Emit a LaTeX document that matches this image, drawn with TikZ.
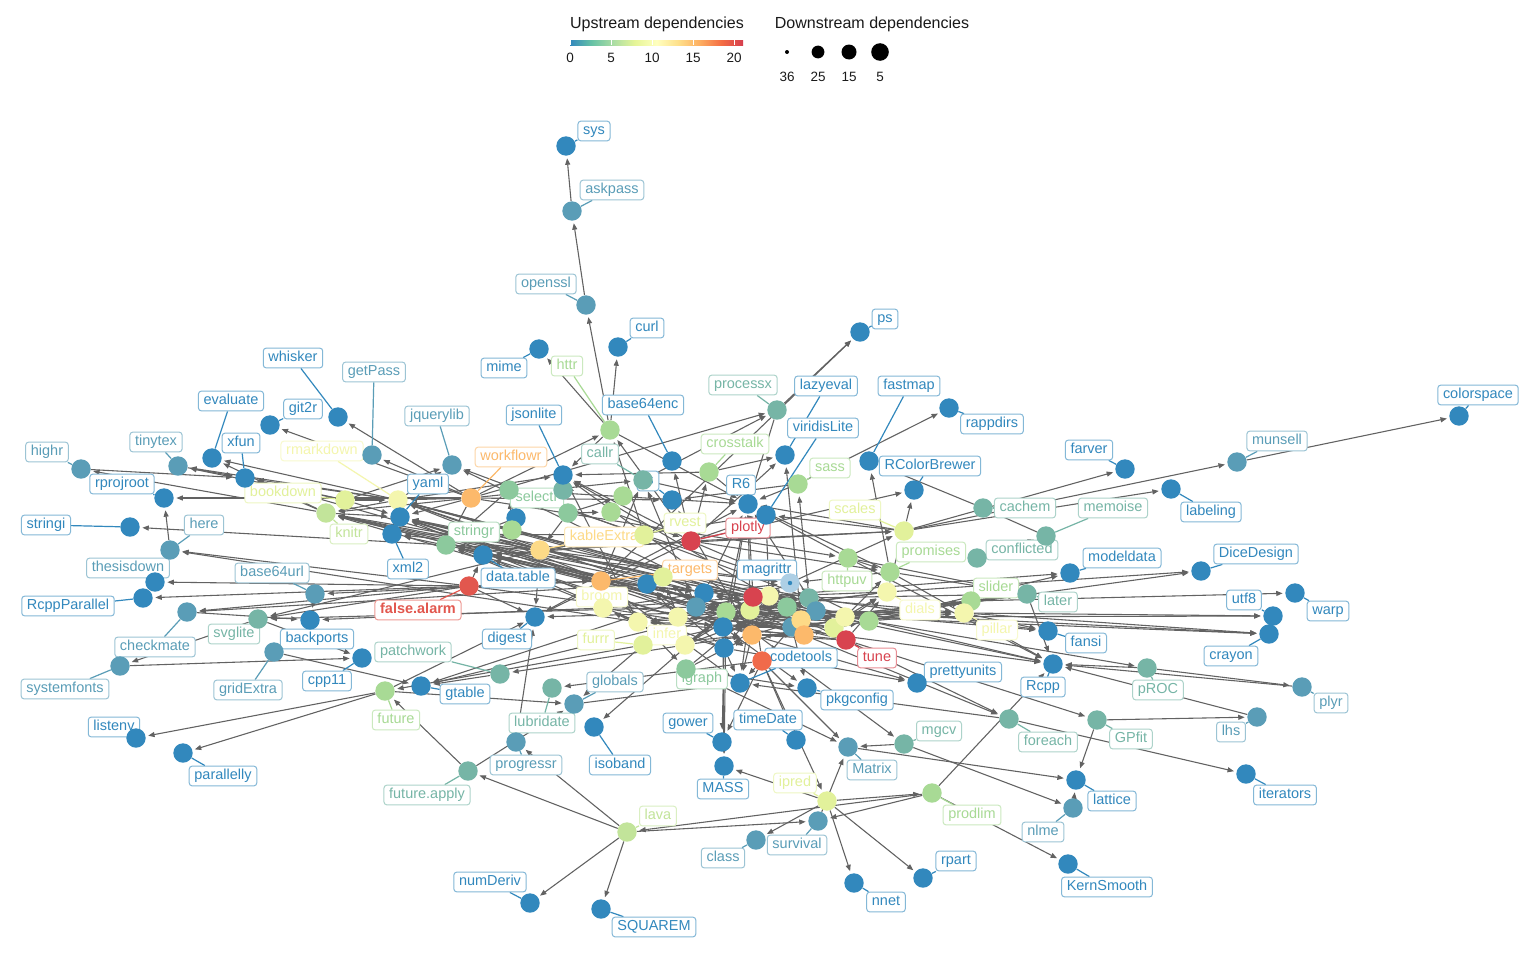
\documentclass[tikz,border=0pt]{standalone}
\usepackage{fontspec}
\setmainfont{Liberation Sans}
\usepackage{tikz}
\usetikzlibrary{arrows.meta, positioning}
\definecolor{cA}{HTML}{3288BD}
\definecolor{cB}{HTML}{5A9DB7}
\definecolor{cC}{HTML}{76B5A6}
\definecolor{cD}{HTML}{8CC99D}
\definecolor{cE}{HTML}{A8DA95}
\definecolor{cF}{HTML}{C2E49A}
\definecolor{cG}{HTML}{E2F19B}
\definecolor{cH}{HTML}{F4F6AE}
\definecolor{cI}{HTML}{FDDA87}
\definecolor{cJ}{HTML}{FCB96B}
\definecolor{cK}{HTML}{F06A4A}
\definecolor{cL}{HTML}{D8434F}
\definecolor{cM}{HTML}{E2574E}
\definecolor{depgray}{HTML}{626262}
\definecolor{inkgray}{HTML}{1A1A1A}
\definecolor{sp1}{HTML}{3288BD}
\definecolor{sp2}{HTML}{66C2A5}
\definecolor{sp3}{HTML}{ABDDA4}
\definecolor{sp4}{HTML}{E6F598}
\definecolor{sp5}{HTML}{FFFFBF}
\definecolor{sp6}{HTML}{FEE08B}
\definecolor{sp7}{HTML}{FDAE61}
\definecolor{sp8}{HTML}{F46D43}
\definecolor{sp9}{HTML}{D53E4F}
\pgfdeclarehorizontalshading{upstream}{100bp}{color(0bp)=(sp1); color(25bp)=(sp1); color(31.25bp)=(sp2); color(37.5bp)=(sp3); color(43.75bp)=(sp4); color(50bp)=(sp5); color(56.25bp)=(sp6); color(62.5bp)=(sp7); color(68.75bp)=(sp8); color(75bp)=(sp9); color(100bp)=(sp9)}
\pgfdeclarelayer{edgelayer}
\pgfdeclarelayer{leaderlayer}
\pgfdeclarelayer{taglayer}
\pgfsetlayers{edgelayer,leaderlayer,taglayer,main}
\tikzset{
	pkg/.style={circle, fill=#1, inner sep=0pt, minimum size=4.85mm}
}
\tikzset{
	tag/.style={draw=#1!60!white, text=#1, fill=white, rounded corners=0.75mm, line width=0.25mm,
			inner xsep=1.3mm, inner ysep=0.8mm, text height=2.6mm, text depth=0.75mm,
			font=\fontsize{10.3}{12}\selectfont}
}
\tikzset{
	lead/.style={draw=#1, line width=0.3mm}
}
\tikzset{
	dep/.style={draw=depgray, line width=0.27mm, -{Triangle[length=1.6mm,width=1.25mm]}, shorten >=0.6mm}
}
\tikzset{
	legendtext/.style={text=inkgray, font=\fontsize{9.6}{11}\selectfont}
}

\begin{document}
\begin{tikzpicture}[x=0.25mm, y=-0.25mm]

	\begin{pgfonlayer}{edgelayer}
		\fill[white] (0,0) rectangle (1536,960);
	\end{pgfonlayer}
	\path[use as bounding box] (0,0) rectangle (1536,960);

	% legend
	\node[text=inkgray, font=\fontsize{11.4}{13}\selectfont] (uptitle) at (657,24) {Upstream dependencies};
	\shade[shading=upstream] (570,40) rectangle (743,45);
	\foreach \v in {0,5,10,15,20} {
			\draw[white, line width=0.2mm] ({570+8.2*\v},40) -- ++(0,5);
			\node[legendtext] (tick\v) at ({570+8.2*\v},58) {\v};
		}
	\node[text=inkgray, font=\fontsize{11.4}{13}\selectfont] (downtitle) at (872,24) {Downstream dependencies};
	\node[circle, fill=black, inner sep=0pt, minimum size=1.0mm] (d36) at (787,52) {};
	\node[circle, fill=black, inner sep=0pt, minimum size=3.2mm] (d25) at (818,52) {};
	\node[circle, fill=black, inner sep=0pt, minimum size=3.75mm] (d15) at (849,52) {};
	\node[circle, fill=black, inner sep=0pt, minimum size=4.4mm] (d5) at (880,52) {};
	\node[legendtext] (n36) at (787,77) {36};
	\node[legendtext] (n25) at (818,77) {25};
	\node[legendtext] (n15) at (849,77) {15};
	\node[legendtext] (n5) at (880,77) {5};

	% unlabelled packages in the middle
	\foreach \n/\x/\y/\c in {
			h1/568/513/cD, h2/563/490/cC, h3/611/512/cE, h4/623/496/cE, h5/516/518/cA, h6/512/530/cE,
			h7/647/584/cA, h8/663/577/cG, h9/704/593/cA, h10/696/607/cB, h11/726/612/cE, h12/723/627/cA,
			h14/724/648/cA, h15/678/617/cH, h16/638/622/cH, h18/769/596/cH, h19/750/610/cG,
			h20/787/607/cD, h21/809/598/cC, h22/816/611/cB, h29/792/627/cB, h23/801/620/cI,
			h24/804/635/cJ, h25/834/628/cG, h26/845/617/cH, h27/869/621/cE, h13/752/635/cJ,
			h17/753/597/cL, h28/762/661/cK}
	\node[pkg=\c] (\n) at (\x,\y) {};

	% labelled packages
	\foreach \n/\x/\y/\c in {
			sys/566/146/cA, askpass/572/211/cB, openssl/586/305/cB, curl/618/347/cA, mime/539/349/cA,
			httr/610/430/cE, base64enc/672/461/cA, processx/777/410/cC, ps/860/332/cA, lazyeval/785/455/cA,
			viridisLite/766/515/cA, crosstalk/709/472/cE, R6/748/504/cA, sass/798/484/cE, fastmap/869/461/cA,
			rappdirs/949/408/cA, RColorBrewer/914/490/cA, scales/904/531/cG, httpuv/848/558/cE,
			promises/890/572/cE, cachem/983/508/cC, memoise/1046/536/cC, conflicted/977/558/cC,
			farver/1125/469/cA, munsell/1237/462/cB, colorspace/1459/416/cA, labeling/1171/489/cA,
			modeldata/1070/573/cA, DiceDesign/1201/571/cA, slider/971/601/cE, later/1027/594/cC,
			dials/887/592/cH, pillar/964/613/cH, fansi/1048/631/cA, utf8/1273/616/cA, warp/1295/593/cA,
			crayon/1269/634/cA, Rcpp/1053/664/cA, pROC/1147/668/cC, plyr/1302/687/cB, lhs/1257/717/cB,
			GPfit/1097/720/cC, foreach/1009/719/cC, iterators/1246/774/cA, lattice/1076/780/cA,
			nlme/1073/808/cB, KernSmooth/1068/864/cA, prodlim/932/793/cE, mgcv/904/744/cC,
			Matrix/848/747/cB, ipred/827/801/cG, survival/818/821/cB, rpart/923/878/cA, nnet/854/883/cA,
			class/756/840/cB, MASS/724/766/cA, gower/722/742/cA, timeDate/796/740/cA, pkgconfig/807/688/cA,
			prettyunits/917/683/cA, tune/846/640/cL, codetools/740/683/cA, igraph/686/669/cD,
			infer/685/645/cH, furrr/643/645/cG, broom/603/608/cH, targets/601/581/cJ, plotly/691/541/cL,
			rvest/644/535/cG, kableExtra/540/550/cI, fs/672/500/cA, callr/643/480/cC, jsonlite/563/475/cA,
			selectr/509/490/cD, stringr/446/545/cD, workflowr/471/498/cJ, jquerylib/452/465/cB,
			datatable/483/555/cA, falsealarm/469/586/cM, digest/535/617/cA, patchwork/500/674/cC,
			gtable/421/686/cA, future/385/691/cE, lubridate/552/688/cC, globals/574/704/cB,
			isoband/594/727/cA, progressr/516/742/cB, futureapply/468/771/cC, lava/627/832/cF,
			numDeriv/530/903/cA, SQUAREM/601/909/cA, listenv/136/738/cA, parallelly/183/753/cA,
			cpp11/362/658/cA, gridExtra/274/652/cB, systemfonts/120/666/cB, svglite/258/619/cC,
			checkmate/187/612/cB, backports/310/620/cA, base64url/315/594/cB, RcppParallel/143/598/cA,
			thesisdown/155/582/cA, here/170/550/cB, stringi/130/527/cA, rprojroot/164/498/cA,
			highr/81/469/cB, tinytex/178/466/cB, xfun/245/478/cA, evaluate/212/458/cA, git2r/270/425/cA,
			whisker/338/417/cA, getPass/372/455/cB, rmarkdown/398/500/cH, bookdown/345/500/cG,
			knitr/326/513/cF, yaml/400/517/cA, xml2/392/534/cA}
	\node[pkg=\c] (\n) at (\x,\y) {};

	\node[pkg=cA!40!white] (magrittr) at (790,583) {};
	\node[circle, fill=cA, inner sep=0pt, minimum size=1.1mm] (magrittrdot) at (magrittr) {};

	% labels with their leader lines
	\foreach \n/\x/\y/\c/\s in {
			sys/594/131/cA/sys, askpass/612/190/cB/askpass, openssl/546/284/cB/openssl,
			curl/647/328/cA/curl, mime/504/368/cA/mime, httr/567/366/cE/httr,
			base64enc/643/405/cA/base64enc, processx/743/385/cC/processx, lazyeval/826/386/cA/lazyeval,
			fastmap/909/386/cA/fastmap, ps/885/319/cA/ps, rappdirs/992/424/cA/rappdirs,
			viridisLite/823/428/cA/viridisLite, crosstalk/735/444/cE/crosstalk, sass/830/468/cE/sass,
			RColorBrewer/930/466/cA/RColorBrewer, R6/741/485/cA/R6, callr/600/454/cC/callr,
			fs/648/481/cA/fs, jsonlite/534/415/cA/jsonlite, jquerylib/437/416/cB/jquerylib,
			workflowr/511/457/cJ/workflowr, whisker/293/358/cA/whisker, getPass/374/372/cB/getPass,
			evaluate/231/401/cA/evaluate, git2r/303/409/cA/git2r, tinytex/156/442/cB/tinytex,
			xfun/241/443/cA/xfun, highr/47/452/cB/highr, rmarkdown/322/451/cH/rmarkdown,
			rprojroot/122/484/cA/rprojroot, bookdown/283/493/cG/bookdown, yaml/428/484/cA/yaml,
			selectr/537/498/cD/selectr, knitr/349/534/cF/knitr, stringi/46/525/cA/stringi,
			here/204/525/cB/here, stringr/474/532/cD/stringr, kableExtra/604/537/cI/kableExtra,
			rvest/685/523/cG/rvest, plotly/748/528/cL/plotly, scales/855/510/cG/scales,
			cachem/1025/508/cC/cachem, memoise/1113/508/cC/memoise, farver/1089/450/cA/farver,
			munsell/1277/441/cB/munsell, colorspace/1478/395/cA/colorspace, labeling/1211/512/cA/labeling,
			conflicted/1022/550/cC/conflicted, promises/931/552/cE/promises, modeldata/1122/558/cA/modeldata,
			DiceDesign/1256/554/cA/DiceDesign, thesisdown/128/568/cB/thesisdown, base64url/272/573/cB/base64url,
			xml2/408/569/cA/xml2, datatable/518/578/cA/data.table, targets/690/570/cJ/targets,
			magrittr/767/570/cA/magrittr, httpuv/847/581/cE/httpuv, slider/996/588/cE/slider,
			later/1058/602/cC/later, utf8/1244/600/cA/utf8, warp/1328/611/cA/warp,
			RcppParallel/68/606/cA/RcppParallel, falsealarm/418/610/cM/\textbf{false.alarm},
			broom/602/597/cH/broom, dials/920/610/cH/dials, pillar/997/630/cH/pillar,
			checkmate/155/647/cB/checkmate, svglite/234/634/cC/svglite, backports/317/639/cA/backports,
			digest/507/639/cA/digest, furrr/596/640/cG/furrr, infer/667/635/cH/infer,
			fansi/1086/643/cA/fansi, crayon/1231/656/cA/crayon, codetools/801/658/cA/codetools,
			tune/877/658/cL/tune, patchwork/413/652/cC/patchwork, systemfonts/65/689/cB/systemfonts,
			gridExtra/248/690/cB/gridExtra, cpp11/327/681/cA/cpp11, gtable/465/694/cA/gtable,
			globals/615/682/cB/globals, igraph/702/679/cD/igraph, prettyunits/963/672/cA/prettyunits,
			Rcpp/1043/687/cA/Rcpp, pROC/1158/690/cC/pROC, pkgconfig/857/700/cA/pkgconfig,
			plyr/1331/703/cB/plyr, future/396/720/cE/future, lubridate/542/723/cC/lubridate,
			gower/688/723/cA/gower, timeDate/768/720/cA/timeDate, mgcv/939/731/cC/mgcv,
			lhs/1231/732/cB/lhs, foreach/1048/742/cC/foreach, GPfit/1131/739/cC/GPfit,
			listenv/114/727/cA/listenv, progressr/526/765/cB/progressr, isoband/620/765/cA/isoband,
			Matrix/872/770/cB/Matrix, parallelly/223/776/cA/parallelly, ipred/795/783/cG/ipred,
			MASS/723/789/cA/MASS, futureapply/427/795/cC/future.apply, iterators/1285/795/cA/iterators,
			lattice/1112/801/cA/lattice, prodlim/972/815/cE/prodlim, lava/658/816/cF/lava,
			nlme/1043/832/cB/nlme, survival/797/845/cB/survival, class/723/858/cB/class,
			rpart/956/861/cA/rpart, numDeriv/490/882/cA/numDeriv, KernSmooth/1107/887/cA/KernSmooth,
			nnet/886/902/cA/nnet, SQUAREM/654/927/cA/SQUAREM} {
			\begin{pgfonlayer}{taglayer}
				\node[tag=\c] (l\n) at (\x,\y) {\s};
			\end{pgfonlayer}
			\begin{pgfonlayer}{leaderlayer}
				\draw[lead=\c] (l\n) -- (\n);
			\end{pgfonlayer}
		}

	% dependencies
	\begin{pgfonlayer}{edgelayer}
		\foreach \a/\b in {
				askpass/sys, openssl/askpass, httr/openssl, httr/curl, httr/mime, httr/jsonlite, httr/R6,
				callr/processx, callr/R6, processx/ps, processx/R6, sass/rappdirs, sass/fs, sass/R6,
				cachem/fastmap, memoise/cachem, conflicted/memoise,
				scales/farver, scales/labeling, scales/munsell, scales/RColorBrewer, scales/viridisLite, scales/R6,
				munsell/colorspace, crosstalk/jsonlite, crosstalk/lazyeval, crosstalk/R6,
				plotly/httr, plotly/jsonlite, plotly/base64enc, plotly/lazyeval, plotly/viridisLite,
				plotly/RColorBrewer, plotly/crosstalk, plotly/datatable, plotly/digest, plotly/magrittr,
				plotly/promises, plotly/scales,
				httpuv/later, httpuv/promises, httpuv/R6, httpuv/Rcpp,
				promises/later, promises/Rcpp, promises/R6, promises/magrittr, promises/fastmap, later/Rcpp,
				workflowr/callr, workflowr/fs, workflowr/getPass, workflowr/git2r, workflowr/httpuv,
				workflowr/httr, workflowr/knitr, workflowr/rmarkdown, workflowr/rprojroot, workflowr/stringr,
				workflowr/whisker, workflowr/yaml, workflowr/processx,
				rmarkdown/evaluate, rmarkdown/jquerylib, rmarkdown/jsonlite, rmarkdown/knitr,
				rmarkdown/tinytex, rmarkdown/xfun,
				knitr/evaluate, knitr/highr, knitr/xfun, knitr/yaml,
				bookdown/jquerylib, bookdown/rmarkdown, bookdown/tinytex, bookdown/xfun, bookdown/yaml,
				tinytex/xfun, highr/xfun, here/rprojroot, stringr/stringi, stringr/magrittr,
				falsealarm/thesisdown, falsealarm/RcppParallel, falsealarm/checkmate, falsealarm/here,
				falsealarm/svglite, falsealarm/datatable, falsealarm/digest, falsealarm/Rcpp, falsealarm/targets,
				targets/base64url, targets/callr, targets/codetools, targets/datatable, targets/digest,
				targets/igraph, targets/knitr, targets/ps, targets/R6, targets/yaml,
				base64url/backports, checkmate/backports, svglite/systemfonts, svglite/cpp11,
				systemfonts/cpp11, gridExtra/gtable, patchwork/gtable, broom/backports, broom/stringr,
				future/digest, future/globals, future/listenv, future/parallelly,
				futureapply/future, futureapply/globals, furrr/future, furrr/globals, furrr/magrittr,
				globals/codetools, progressr/digest,
				lava/futureapply, lava/progressr, lava/numDeriv, lava/SQUAREM, lava/survival,
				prodlim/Rcpp, prodlim/survival, prodlim/KernSmooth, prodlim/lava,
				ipred/rpart, ipred/MASS, ipred/nnet, ipred/class, ipred/prodlim,
				survival/Matrix, Matrix/lattice, nlme/lattice, mgcv/nlme, mgcv/Matrix,
				foreach/codetools, foreach/iterators, GPfit/lhs, GPfit/lattice, lhs/Rcpp,
				pROC/plyr, pROC/Rcpp, plyr/Rcpp, igraph/Matrix, igraph/magrittr, igraph/pkgconfig,
				tune/GPfit, tune/foreach, tune/dials, dials/DiceDesign, dials/scales, slider/warp,
				pillar/fansi, pillar/utf8, pillar/crayon,
				h28/ipred, h28/gower, h28/timeDate, h28/lubridate, h28/Matrix, h28/h17,
				kableExtra/rvest, kableExtra/xml2, kableExtra/stringr, kableExtra/knitr, kableExtra/rmarkdown,
				kableExtra/scales, kableExtra/viridisLite, kableExtra/svglite, kableExtra/digest, kableExtra/magrittr,
				rvest/xml2, rvest/selectr, rvest/httr, rvest/magrittr, selectr/R6, selectr/stringr,
				infer/broom, infer/patchwork, infer/magrittr, infer/h11,
				h11/isoband, h11/MASS, h11/mgcv, h11/gtable, h11/scales, h11/digest,
				h13/prettyunits, h13/yaml, h13/h17, h17/modeldata, h17/knitr, h17/R6,
				h27/pROC, h26/utf8, h26/later, h22/crayon, h22/magrittr, h21/jquerylib, h21/later,
				h20/pkgconfig, h20/jsonlite, h18/rmarkdown, h18/pillar, h24/xfun, h9/yaml, h9/R6,
				h12/R6, h14/R6, h15/stringr, h16/datatable, h7/datatable, h19/magrittr, h10/svglite,
				h25/slider, h23/lazyeval, h18/viridisLite, h13/fs, h10/callr, h19/jsonlite, h21/sass,
				h9/knitr, h12/rmarkdown, h14/yaml, h19/knitr, h20/rmarkdown, h21/yaml, h23/xml2,
				h24/jquerylib, h25/stringr, h10/yaml, h11/knitr, h7/rmarkdown, h8/yaml, h15/knitr,
				h16/jsonlite, h26/yaml, h27/rmarkdown,
				h17/h9, h17/h20, h17/h21, h17/h12, h17/h10, h13/h9, h13/h11, h13/h23, h13/h24,
				h24/h18, h24/h21, h24/h20, h24/h25, h23/h26, h23/h27, h23/h9, h23/h10,
				h25/h27, h25/dials, h25/promises, h26/dials, h18/h21, h18/h22, h19/h20, h19/h12,
				h15/h16, h15/h8, h15/h7, h8/h9, h16/broom, h1/h3, h1/h4, h1/kableExtra, h3/plotly,
				h5/stringr, h6/selectr,
				h27/modeldata, h29/DiceDesign, h22/fansi, h20/Rcpp, h14/prettyunits, h12/pkgconfig,
				h24/foreach, h9/gtable, h7/checkmate, h16/here, h14/gower, h12/MASS, h29/later,
				h26/crayon, h27/Rcpp, h21/tune, h29/h28,
				h27/h9, h27/h12, h26/h11, h26/h14, h25/h10, h25/h15, h24/h16, h24/h7, h23/h15,
				h22/h16, h22/h12, h21/h11, h21/h14, h20/h10, h20/h15, h29/h12, h29/h16, h18/h14,
				h18/h10, h19/h15, h11/h7, h12/h8, h14/h16, h14/h7, h10/h8,
				tune/h13, tune/h17, tune/h12, tune/h19, tune/h11, dials/h11, dials/h17, dials/h19,
				targets/h9, targets/h17, targets/h11, broom/h9, broom/h12, broom/h17,
				furrr/h12, furrr/h13, infer/h13, infer/h17, infer/h20, igraph/h13,
				h13/codetools, h14/codetools, h19/codetools, h28/codetools,
				h27/pillar, h26/slider, h23/later, h19/pillar, h12/slider, h21/fansi, h11/pillar,
				h11/stringr, h24/stringr, h20/yaml, h22/rmarkdown,
				h9/magrittr, h12/magrittr, h13/magrittr, h24/magrittr, tune/magrittr, h27/magrittr,
				h25/magrittr, h19/R6, h21/R6}
		\draw[dep] (\a) -- (\b);
	\end{pgfonlayer}

\end{tikzpicture}
\end{document}
